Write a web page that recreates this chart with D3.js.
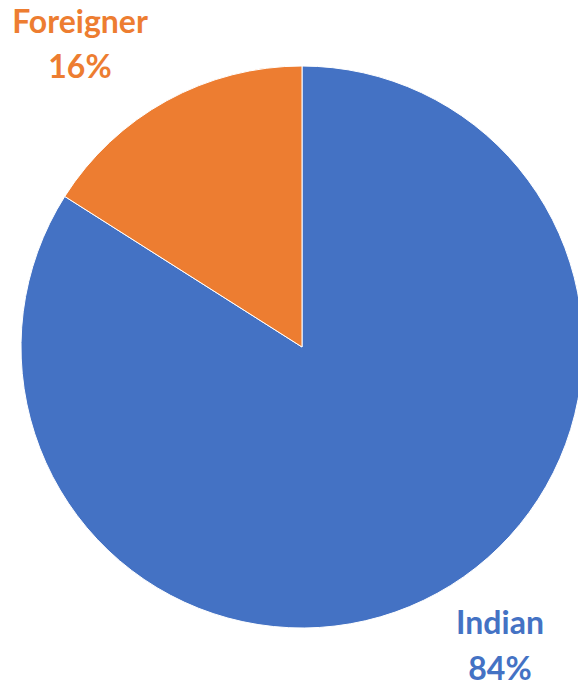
<!DOCTYPE html>
<html>
<head>
<meta charset="utf-8">
<script src="https://cdn.jsdelivr.net/npm/d3@7"></script>
<style>
  html, body { margin: 0; padding: 0; background: #fff; }
  svg { display: block; }
  text { font-family: Lato, "Open Sans", sans-serif; font-weight: 700; }
</style>
</head>
<body>
<svg id="chart" width="578" height="688"></svg>
<script>
const categories = ["Indian", "Foreigner"];
const values = [84, 16];
const percentLabels = ["84%", "16%"];
const colors = ["#4472C4", "#ED7D31"];

const width = 578, height = 688;
const cx = 302, cy = 347, radius = 281;

const svg = d3.select("#chart");
const g = svg.append("g").attr("transform", `translate(${cx},${cy})`);

const pie = d3.pie().sort(null).value(d => d.value);
const arc = d3.arc().innerRadius(0).outerRadius(radius);

const data = categories.map((c, i) => ({ name: c, value: values[i], color: colors[i], pct: percentLabels[i] }));

g.selectAll("path")
  .data(pie(data))
  .join("path")
  .attr("d", arc)
  .attr("fill", d => d.data.color)
  .attr("stroke", "#fff")
  .attr("stroke-width", 1);

// Category / percentage labels placed outside the pie
const labelPos = {
  Indian: { x: 500, y1: 634, y2: 680 },
  Foreigner: { x: 80, y1: 33, y2: 78 }
};

data.forEach(d => {
  const p = labelPos[d.name];
  const t = svg.append("text")
    .attr("text-anchor", "middle")
    .attr("fill", d.color)
    .style("font-size", "32px");
  t.append("tspan").attr("x", p.x).attr("y", p.y1).text(d.name);
  t.append("tspan").attr("x", p.x).attr("y", p.y2).text(d.pct);
});
</script>
</body>
</html>
